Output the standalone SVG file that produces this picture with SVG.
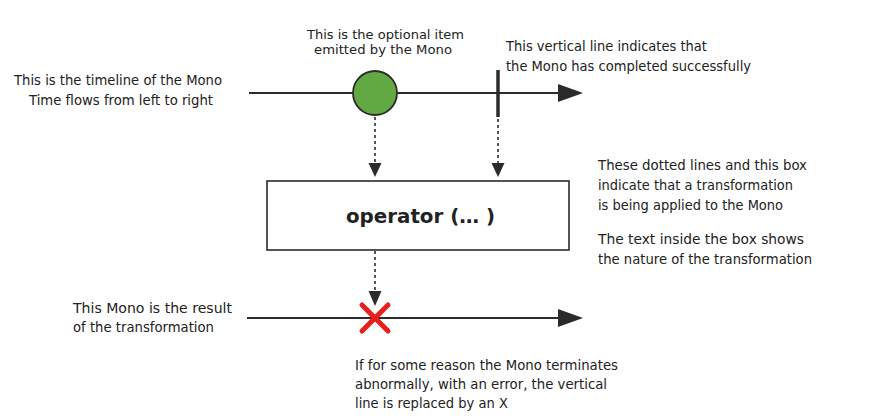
<svg xmlns="http://www.w3.org/2000/svg" width="873" height="418" viewBox="0 0 873 418">
<style>
.t{font-family:"DejaVu Sans","Liberation Sans",sans-serif;font-size:13.5px;fill:#222;}
.s{font-size:13px;}
.b{font-family:"DejaVu Sans","Liberation Sans",sans-serif;font-size:20px;font-weight:bold;fill:#222;}
.line{stroke:#2b2b2b;stroke-width:2;fill:none;}
.dot{stroke:#2b2b2b;stroke-width:1.6;stroke-dasharray:3 3;fill:none;}
.head{fill:#2b2b2b;}
</style>
<rect width="873" height="418" fill="#fff"/>
<g id="connectors">
  <line class="line" x1="249" y1="93" x2="560" y2="93"/>
  <polygon class="head" points="558,84 583,93 558,102"/>
  <line class="line" x1="247" y1="318" x2="560" y2="318"/>
  <polygon class="head" points="558,309 583,318 558,327"/>
  <line class="dot" x1="375" y1="117" x2="375" y2="165"/>
  <polygon class="head" points="368.5,163 381.5,163 375,177"/>
  <line class="dot" x1="498" y1="119" x2="498" y2="165"/>
  <polygon class="head" points="491.5,163 504.5,163 498,177"/>
  <line class="dot" x1="375" y1="251" x2="375" y2="292"/>
  <polygon class="head" points="368.5,291 381.5,291 375,306"/>
</g>
<g id="item">
  <circle cx="375" cy="93" r="22" fill="#62a843" stroke="#2b2b2b" stroke-width="1.8"/>
</g>
<g id="complete">
  <line x1="498" y1="70" x2="498" y2="117" stroke="#2b2b2b" stroke-width="3.5"/>
</g>
<g id="operator">
  <rect x="267" y="181" width="302" height="69" fill="#fff" stroke="#2b2b2b" stroke-width="1.6"/>
  <text class="b" x="346" y="223" textLength="149" lengthAdjust="spacingAndGlyphs">operator (… )</text>
</g>
<g id="error">
  <path d="M362,305 L388,331 M388,305 L362,331" stroke="#e8201c" stroke-width="5" stroke-linecap="round" fill="none"/>
</g>
<g id="labels">
  <text class="t s" x="307" y="38.5" textLength="157" lengthAdjust="spacingAndGlyphs">This is the optional item</text>
  <text class="t s" x="314" y="54" textLength="138" lengthAdjust="spacingAndGlyphs">emitted by the Mono</text>
  <text class="t" x="506" y="51" textLength="201" lengthAdjust="spacingAndGlyphs">This vertical line indicates that</text>
  <text class="t" x="506" y="71" textLength="245" lengthAdjust="spacingAndGlyphs">the Mono has completed successfully</text>
  <text class="t" x="14" y="85" textLength="208" lengthAdjust="spacingAndGlyphs">This is the timeline of the Mono</text>
  <text class="t" x="29" y="105" textLength="184" lengthAdjust="spacingAndGlyphs">Time flows from left to right</text>
  <text class="t" x="598" y="170" textLength="209" lengthAdjust="spacingAndGlyphs">These dotted lines and this box</text>
  <text class="t" x="598" y="190" textLength="195" lengthAdjust="spacingAndGlyphs">indicate that a transformation</text>
  <text class="t" x="598" y="210" textLength="185" lengthAdjust="spacingAndGlyphs">is being applied to the Mono</text>
  <text class="t" x="598" y="244" textLength="206" lengthAdjust="spacingAndGlyphs">The text inside the box shows</text>
  <text class="t" x="598" y="264" textLength="214" lengthAdjust="spacingAndGlyphs">the nature of the transformation</text>
  <text class="t" x="73" y="313" textLength="159" lengthAdjust="spacingAndGlyphs">This Mono is the result</text>
  <text class="t" x="73" y="332" textLength="141" lengthAdjust="spacingAndGlyphs">of the transformation</text>
  <text class="t" x="355" y="370" textLength="263" lengthAdjust="spacingAndGlyphs">If for some reason the Mono terminates</text>
  <text class="t" x="355" y="389" textLength="252" lengthAdjust="spacingAndGlyphs">abnormally, with an error, the vertical</text>
  <text class="t" x="355" y="408" textLength="153" lengthAdjust="spacingAndGlyphs">line is replaced by an X</text>
</g>
</svg>
